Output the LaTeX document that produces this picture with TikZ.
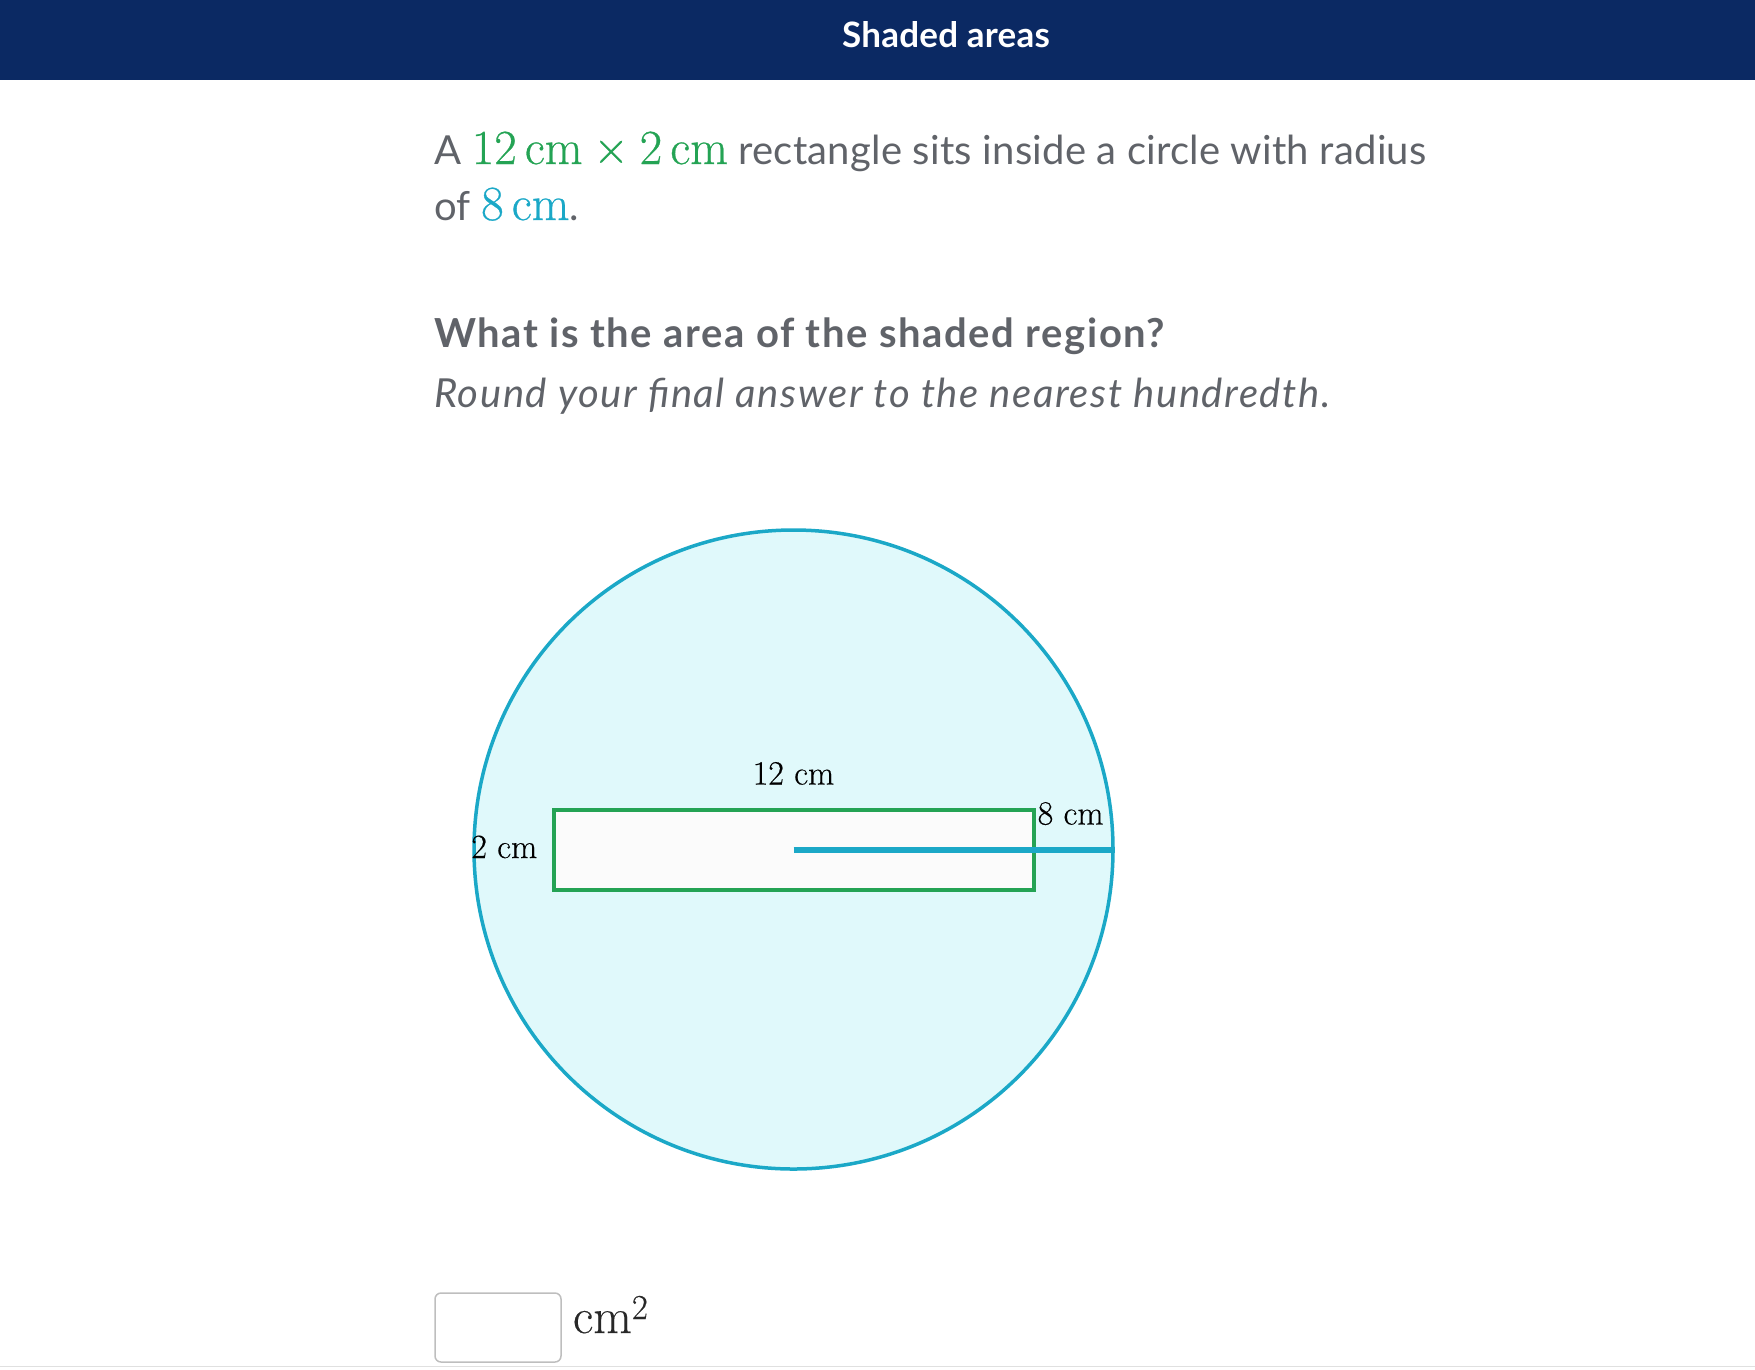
\documentclass[tikz,border=0pt]{standalone}
\usepackage{fontspec}
\newfontfamily\latofont[LetterSpace=0.6]{Lato}
\newfontfamily\latowide[LetterSpace=4]{Lato}
\newfontfamily\katexfont[FakeBold=0.6]{Latin Modern Roman}
\newfontfamily\labelfont[FakeBold=0.3]{Latin Modern Roman}
\usetikzlibrary{positioning}
\definecolor{headblue}{RGB}{11,41,99}
\definecolor{textgray}{RGB}{96,99,105}
\definecolor{rectgreen}{RGB}{36,163,84}
\definecolor{circteal}{RGB}{27,168,199}
\definecolor{circfill}{RGB}{224,249,251}
\definecolor{rectfill}{RGB}{251,251,251}
\definecolor{boxgray}{RGB}{190,190,190}
\definecolor{unittext}{RGB}{40,40,40}
\newcommand\mulsp{\hspace{0.2222em}}
\newcommand\mathsize{\katexfont\fontsize{49}{52}\selectfont}

\begin{document}
\begin{tikzpicture}[x=1pt,y=-1pt,
  body/.style={anchor=base west,inner sep=0pt,text=textgray,font=\latofont\fontsize{40}{46}\selectfont},
  dim/.style={inner sep=0pt,text=black,font=\labelfont\fontsize{34}{40}\selectfont}]
  \useasboundingbox (0,0) rectangle (1755,1369);
  \fill[headblue] (0,0) rectangle (1755,80);
  \node[anchor=base,inner sep=0pt,text=white,font=\latofont\bfseries\fontsize{35}{42}\selectfont] (title) at (946,47) {Shaded areas};

  \node[body] (line1) at (434,164) {A {\mathsize\color{rectgreen}12\,cm\mulsp×\mulsp2\,cm} rectangle sits inside a circle with radius};
  \node[body] (line2) at (434,220) {of {\mathsize\color{circteal}8\,cm}.};
  \node[body,font=\latowide\bfseries\fontsize{40}{46}\selectfont] (question) at (434,347) {What is the area of the shaded region?};
  \node[body,font=\latowide\itshape\fontsize{40}{46}\selectfont] (hint) at (434,407) {Round your final answer to the nearest hundredth.};

  \node[circle,draw=circteal,fill=circfill,line width=3.5pt,minimum size=639pt,inner sep=0pt] (circ) at (793.5,849.5) {};
  \node[draw=rectgreen,fill=rectfill,line width=4pt,minimum width=480pt,minimum height=80pt,inner sep=0pt] (rect) at (circ.center) {};
  \draw[circteal,line width=6pt] (circ.center) -- (circ.east);
  \node[dim,anchor=base] (lenlabel) at ([yshift=23pt]rect.north) {12 cm};
  \node[dim,anchor=base east] (widlabel) at ([xshift=-14pt,yshift=-8.5pt]rect.west) {2 cm};
  \node[dim,anchor=base west] (radlabel) at ([xshift=2pt,yshift=-17pt]rect.north east) {8 cm};

  \node[draw=boxgray,rounded corners=6pt,line width=1.5pt,minimum width=126pt,minimum height=69pt,inner sep=0pt] (answer) at (498,1327.5) {};
  \node[anchor=base west,inner sep=0pt,text=unittext,font=\labelfont\fontsize{50}{54}\selectfont] (unit) at ([xshift=11pt,yshift=-5.5pt]answer.east) {cm\raisebox{14pt}{\fontsize{35}{35}\selectfont 2}};
  \draw[black!12,line width=1pt] (0,1366) -- (1755,1366);
\end{tikzpicture}
\end{document}
